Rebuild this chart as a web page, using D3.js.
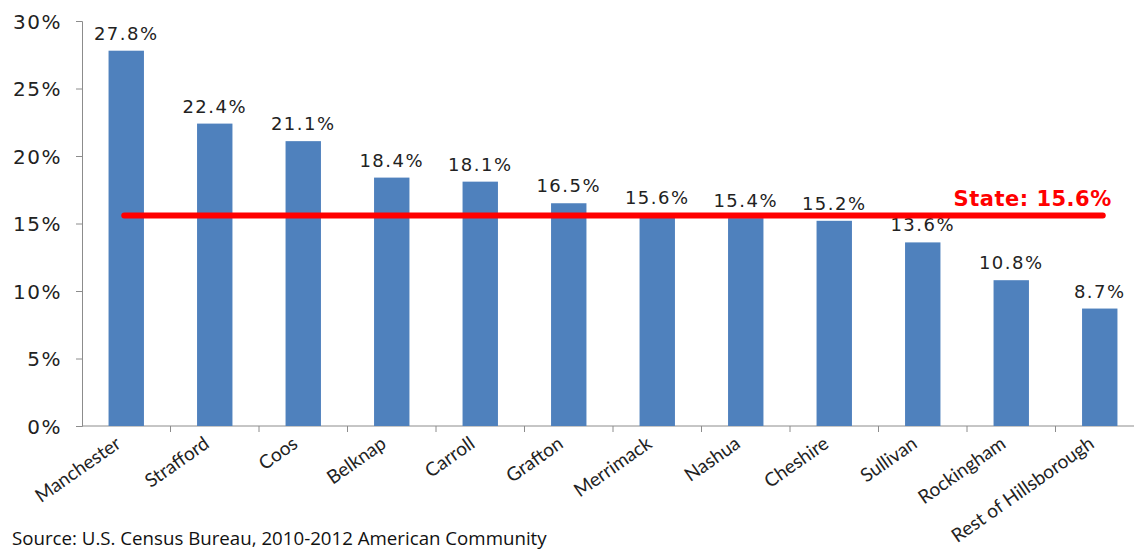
<!DOCTYPE html>
<html>
<head>
<meta charset="utf-8">
<script src="https://cdn.jsdelivr.net/npm/d3@7"></script>
<style>
  body { margin: 0; background: #fff; }
  svg { display: block; }
</style>
</head>
<body>
<svg id="chart"></svg>
<script>
// data
var categories = ["Manchester", "Strafford", "Coos", "Belknap", "Carroll", "Grafton",
    "Merrimack", "Nashua", "Cheshire", "Sullivan", "Rockingham", "Rest of Hillsborough"];
var values = [27.8, 22.4, 21.1, 18.4, 18.1, 16.5, 15.6, 15.4, 15.2, 13.6, 10.8, 8.7];
var yTicks = [0, 5, 10, 15, 20, 25, 30];
var stateValue = 15.6;

var width = 1134, height = 550;
var plotLeft = 82, plotRight = 1144, plotTop = 21, plotBottom = 426;

var svg = d3.select("#chart")
    .attr("width", width)
    .attr("height", height);

var x = d3.scaleBand()
    .domain(categories)
    .range([plotLeft, plotRight])
    .paddingInner(0.6)
    .paddingOuter(0.3);

var y = d3.scaleLinear()
    .domain([0, 30])
    .range([plotBottom, plotTop]);

// y axis
var yAxis = d3.axisLeft(y)
    .tickValues(yTicks)
    .tickSize(6)
    .tickFormat(function (d) { return d + "%"; });

var gy = svg.append("g")
    .attr("transform", "translate(" + plotLeft + ",0)")
    .call(yAxis);
gy.select(".domain").attr("stroke", "#8c8c8c");
gy.selectAll(".tick line").attr("stroke", "#8c8c8c");
gy.selectAll(".tick text")
    .attr("x", -20)
    .attr("dy", "0.35em")
    .style("font-family", "DejaVu Sans, Verdana, sans-serif")
    .style("font-size", "20px")
    .style("letter-spacing", "1.5px")
    .attr("fill", "#222");

// x axis line + ticks between the bars
var step = x.step();
svg.append("line")
    .attr("x1", plotLeft).attr("x2", plotRight)
    .attr("y1", plotBottom).attr("y2", plotBottom)
    .attr("stroke", "#8c8c8c");

svg.selectAll(".xtick")
    .data(categories)
    .enter().append("line")
    .attr("class", "xtick")
    .attr("x1", function (d) { return x(d) + x.bandwidth() / 2 + step / 2; })
    .attr("x2", function (d) { return x(d) + x.bandwidth() / 2 + step / 2; })
    .attr("y1", plotBottom).attr("y2", plotBottom + 6)
    .attr("stroke", "#8c8c8c");

// bars
svg.selectAll(".bar")
    .data(values)
    .enter().append("rect")
    .attr("class", "bar")
    .attr("x", function (d, i) { return x(categories[i]); })
    .attr("width", x.bandwidth())
    .attr("y", function (d) { return y(d); })
    .attr("height", function (d) { return plotBottom - y(d); })
    .attr("fill", "#4f81bd");

// value labels
svg.selectAll(".val")
    .data(values)
    .enter().append("text")
    .attr("class", "val")
    .attr("x", function (d, i) { return x(categories[i]) + x.bandwidth() / 2; })
    .attr("y", function (d) { return y(d) - 11; })
    .attr("text-anchor", "middle")
    .style("font-family", "DejaVu Sans, Verdana, sans-serif")
    .style("font-size", "18px")
    .style("letter-spacing", "1.5px")
    .attr("fill", "#222")
    .text(function (d) { return d.toFixed(1) + "%"; });

// category labels
svg.selectAll(".cat")
    .data(categories)
    .enter().append("text")
    .attr("class", "cat")
    .attr("transform", function (d) {
        var cx = x(d) + x.bandwidth() / 2 - 8;
        return "translate(" + cx + "," + (plotBottom + 15) + ") rotate(-35)";
    })
    .attr("text-anchor", "end")
    .attr("dy", "0.35em")
    .style("font-family", "Lato, 'Open Sans', sans-serif")
    .style("font-size", "19px")
    .attr("fill", "#222")
    .text(function (d) { return d; });

// state reference line
var first = categories[0], last = categories[categories.length - 1];
svg.append("line")
    .attr("x1", x(first) + x.bandwidth() / 2 - 2)
    .attr("x2", x(last) + x.bandwidth() / 2 + 3)
    .attr("y1", y(stateValue)).attr("y2", y(stateValue))
    .attr("stroke", "#ff0000")
    .attr("stroke-width", 6)
    .attr("stroke-linecap", "round");

svg.append("text")
    .attr("x", x(last) + x.bandwidth() / 2 + 12)
    .attr("y", y(stateValue) - 9)
    .attr("text-anchor", "end")
    .style("font-family", "DejaVu Sans, Verdana, sans-serif")
    .style("font-size", "21px")
    .style("font-weight", "bold")
    .style("letter-spacing", "0.5px")
    .attr("fill", "#ff0000")
    .text("State: " + stateValue + "%");

// source
svg.append("text")
    .attr("x", 12)
    .attr("y", 545)
    .style("font-family", "'Open Sans', sans-serif")
    .style("font-size", "18.7px")
    .attr("fill", "#111")
    .text("Source: U.S. Census Bureau, 2010-2012 American Community");
</script>
</body>
</html>
